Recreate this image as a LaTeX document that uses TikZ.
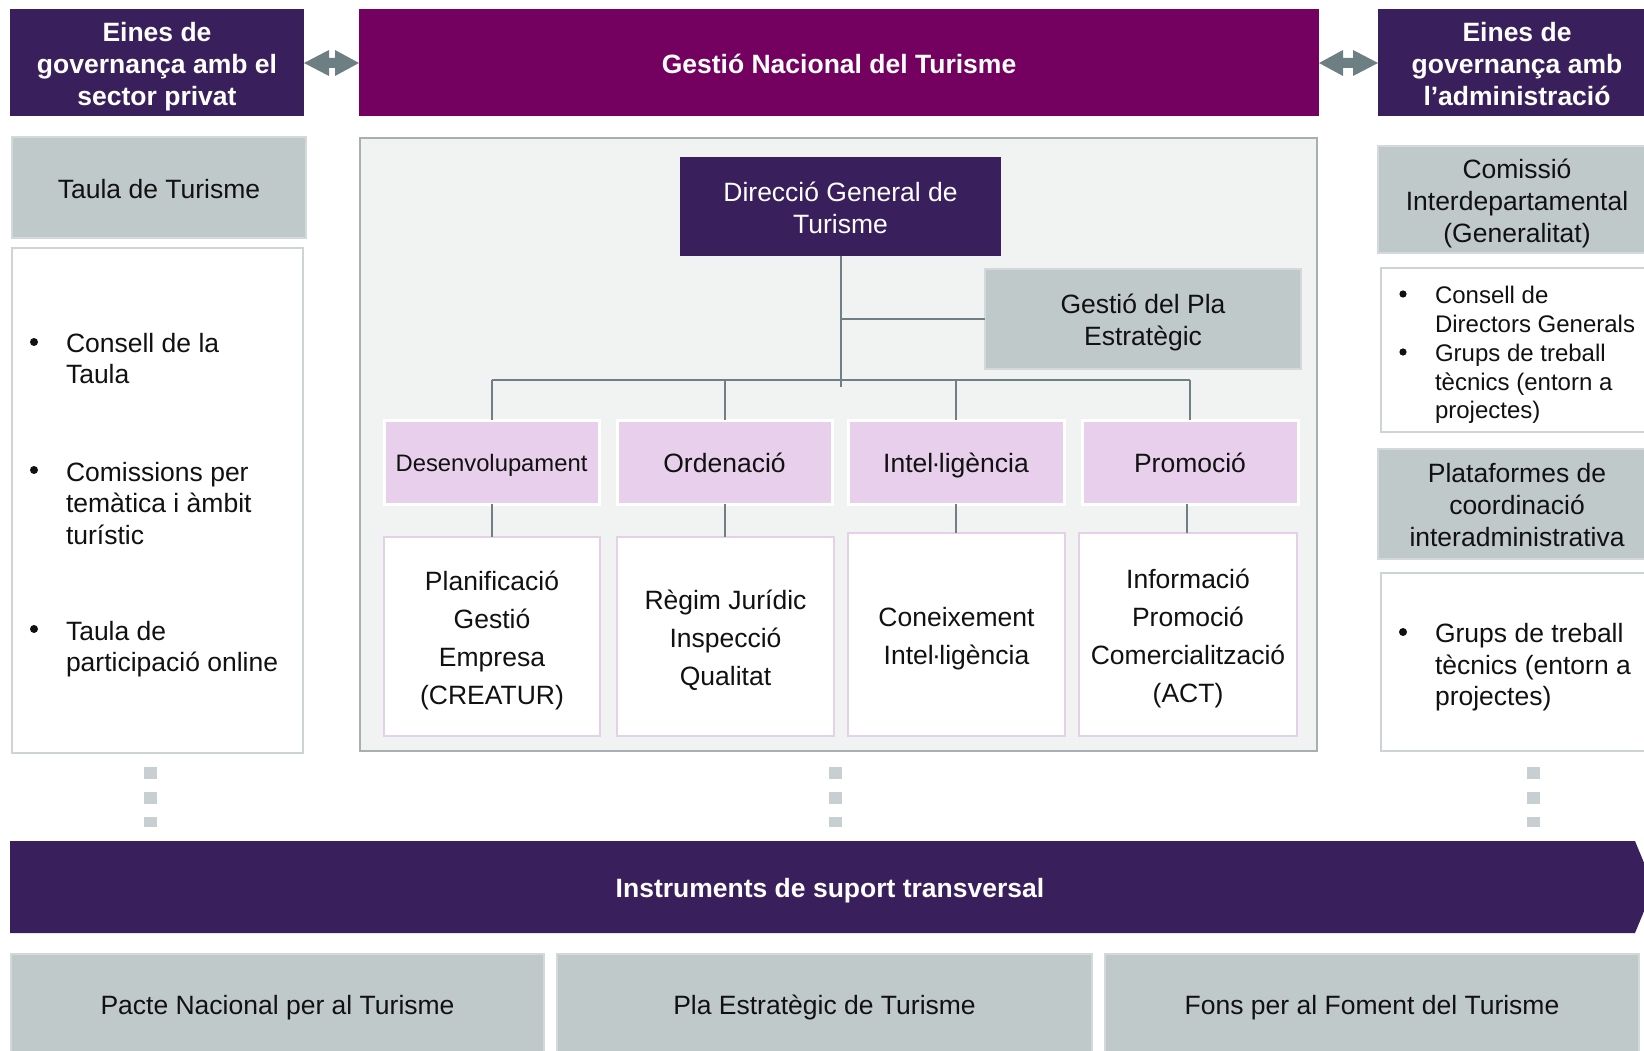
\documentclass[tikz,border=0pt]{standalone}
\usepackage{fontspec}
\setmainfont{Liberation Sans}
\newcommand\setfs[2]{\fontsize{#1}{#2}\selectfont}
% invisible struts giving every text block the same top and bottom reach
\newcommand\tstrut{\rule{0pt}{1.02em}}
\newcommand\bstrut{\rule[-0.22em]{0pt}{0.22em}}
\newcommand\midpt{\kern-0.06em·\kern-0.06em}
\definecolor{dpurple}{HTML}{3A1F5D}
\definecolor{magentah}{HTML}{74005F}
\definecolor{greyfill}{HTML}{C0C9CA}
\definecolor{greyedge}{HTML}{D3D9DA}
\definecolor{arrowgrey}{HTML}{6E7F83}
\definecolor{panelfill}{HTML}{F1F2F2}
\definecolor{paneledge}{HTML}{A7AFB1}
\definecolor{pinkfill}{HTML}{E8CFEB}
\definecolor{pinkedge}{HTML}{E6CFE9}
\definecolor{lightedge}{HTML}{CDD4D5}
\definecolor{dotgrey}{HTML}{C8CFD2}
\definecolor{linkgrey}{HTML}{6F7F84}
\definecolor{ink}{HTML}{111111}
\begin{document}
\begin{tikzpicture}[x=1pt,y=-1pt,
  box/.style={inner sep=0pt, outer sep=0pt, align=center},
  hdrdark/.style={box, fill=dpurple, text=white, font=\setfs{26.5}{32}\bfseries},
  hdrmag/.style={box, fill=magentah, text=white, font=\setfs{26.5}{32}\bfseries},
  greybox/.style={box, fill=greyfill, draw=greyedge, line width=1.5, text=ink, font=\setfs{26.5}{32}},
  listbox/.style={box, fill=white, draw=lightedge, line width=1.5},
  panel/.style={box, fill=panelfill, draw=paneledge, line width=2.5},
  headbox/.style={box, fill=dpurple, text=white, font=\setfs{26.5}{32}},
  areabox/.style={box, fill=pinkfill, draw=white, line width=3, text=ink, font=\setfs{26.5}{32}},
  taskbox/.style={box, fill=white, draw=pinkedge, line width=2, text=ink, font=\setfs{26.5}{38}},
  item/.style={inner sep=0pt, outer sep=0pt, align=left, anchor=west, text=ink},
  link/.style={draw=linkgrey, line width=2},
  dotmark/.style={fill=dotgrey},
  twoway/.style={fill=arrowgrey},
  basebox/.style={box, fill=greyfill, draw=greyedge, line width=1.5, text=ink, font=\setfs{26.5}{32}}
]
\useasboundingbox (0,0) rectangle (1644,1051);
\clip (0,0) rectangle (1644,1051);

% ---- top header row ----
\node[hdrdark, minimum width=294, minimum height=107] (hl) at (157,62.5)
  {\tstrut Eines de\\governança amb el\\sector privat\bstrut};
\node[hdrmag, minimum width=960, minimum height=107] (hc) at (839,62.5)
  {\tstrut Gestió Nacional del Turisme\bstrut};
\node[hdrdark, minimum width=278, minimum height=107] (hr) at (1517,62.5)
  {\tstrut Eines de\\governança amb\\l’administració\bstrut};

% two-way arrows between the headers
\fill[twoway] (hl.east |- 0,63) -- (329,50) -- (329,58) -- (335,58) -- (335,50)
  -- (hc.west |- 0,63) -- (335,76) -- (335,68) -- (329,68) -- (329,76) -- cycle;
\fill[twoway] (hc.east |- 0,63) -- (1343,50) -- (1343,58) -- (1353,58) -- (1353,50)
  -- (hr.west |- 0,63) -- (1353,76) -- (1353,68) -- (1343,68) -- (1343,76) -- cycle;

% ---- left column: private sector ----
\node[greybox, minimum width=294, minimum height=101] (taula) at (159,187.5)
  {\tstrut Taula de Turisme\bstrut};
\node[listbox, minimum width=291, minimum height=505] (lbox) at (157.5,500.5) {};
\fill[ink] (34,342) circle (4);
\node[item, font=\setfs{26.5}{31.5}] (l1) at (66,357.5) {\tstrut Consell de la\\Taula\bstrut};
\fill[ink] (34,470) circle (4);
\node[item, font=\setfs{26.5}{31.5}] (l2) at (66,502) {\tstrut Comissions per\\temàtica i àmbit\\turístic\bstrut};
\fill[ink] (34,629) circle (4);
\node[item, font=\setfs{26.5}{31.5}] (l3) at (66,645.5) {\tstrut Taula de\\participació online\bstrut};

% ---- right column: administration ----
\node[greybox, minimum width=278, minimum height=107] (comis) at (1517,199.5)
  {\tstrut Comissió\\Interdepartamental\\(Generalitat)\bstrut};
\node[listbox, minimum width=275, minimum height=164] (rbox1) at (1518.5,350) {};
\fill[ink] (1403,294) circle (3.6);
\node[item, font=\setfs{24}{28.7}] (r1) at (1435,308.5) {\tstrut Consell de\\Directors Generals\bstrut};
\fill[ink] (1403,352) circle (3.6);
\node[item, font=\setfs{24}{28.7}] (r2) at (1435,380.5) {\tstrut Grups de treball\\tècnics (entorn a\\projectes)\bstrut};
\node[greybox, minimum width=278, minimum height=110] (plat) at (1517,504)
  {\tstrut Plataformes de\\coordinació\\interadministrativa\bstrut};
\node[listbox, minimum width=275, minimum height=178] (rbox2) at (1518.5,662) {};
\fill[ink] (1403,632) circle (4);
\node[item, font=\setfs{26.5}{31.5}] (r3) at (1435,663.5) {\tstrut Grups de treball\\tècnics (entorn a\\projectes)\bstrut};

% ---- central organisation chart ----
\node[panel, minimum width=957, minimum height=613] (panel) at (838.5,444.5) {};
\node[headbox, minimum width=321, minimum height=99] (dgt) at (840.5,206.5)
  {\tstrut Direcció General de\\Turisme\bstrut};
\node[greybox, minimum width=316, minimum height=100] (gpe) at (1143,319)
  {\tstrut Gestió del Pla\\Estratègic\bstrut};

\node[areabox, minimum width=215, minimum height=84, font=\setfs{23.8}{28}] (des) at (491.5,462) {\tstrut Desenvolupament\bstrut};
\node[areabox, minimum width=215, minimum height=84] (ord) at (724.5,462) {\tstrut Ordenació\bstrut};
\node[areabox, minimum width=216, minimum height=84] (int) at (956,462) {\tstrut Intel\midpt ligència\bstrut};
\node[areabox, minimum width=216, minimum height=84] (pro) at (1190,462) {\tstrut Promoció\bstrut};

\node[taskbox, minimum width=216, minimum height=199] (w1) at (492,636.5)
  {\tstrut Planificació\\Gestió\\Empresa\\(CREATUR)\bstrut};
\node[taskbox, minimum width=217, minimum height=199] (w2) at (725.5,636.5)
  {\tstrut Règim Jurídic\\Inspecció\\Qualitat\bstrut};
\node[taskbox, minimum width=217, minimum height=203] (w3) at (956.5,634.5)
  {\tstrut Coneixement\\Intel\midpt ligència\bstrut};
\node[taskbox, minimum width=218, minimum height=203] (w4) at (1188,634.5)
  {\tstrut Informació\\Promoció\\Comercialització\\(ACT)\bstrut};

% connectors of the chart
\coordinate (trunk) at (840,387);
\coordinate (bus) at (840,380);
\draw[link] (dgt.south) -- (dgt.south |- trunk);
\draw[link] (dgt.south |- gpe.west) -- (gpe.west);
\draw[link] (des.north |- bus) -- (pro.north |- bus);
\draw[link] (des.north |- bus) -- (des.north);
\draw[link] (ord.north |- bus) -- (ord.north);
\draw[link] (int.north |- bus) -- (int.north);
\draw[link] (pro.north |- bus) -- (pro.north);
\draw[link] (des.south) -- (des.south |- w1.north);
\draw[link] (ord.south) -- (ord.south |- w2.north);
\draw[link] (int.south) -- (int.south |- w3.north);
\draw[link] (w4.north -| 1187,0) -- (pro.south -| 1187,0);

% ---- vertical dot leaders ----
\foreach \cx in {150,835,1533}{
  \fill[dotmark] (\cx-6.5,767) rectangle (\cx+6.5,779);
  \fill[dotmark] (\cx-6.5,792) rectangle (\cx+6.5,804);
  \fill[dotmark] (\cx-6.5,817) rectangle (\cx+6.5,827);
}

% ---- transversal support band ----
\fill[dpurple] (10,841) -- (1635,841) -- (1654,887) -- (1635,933) -- (10,933) -- cycle;
\node[box, text=white, font=\setfs{26.5}{32}\bfseries] (band) at (830,887)
  {\tstrut Instruments de suport transversal\bstrut};

% ---- support instruments ----
\node[basebox, minimum width=533, minimum height=100] (b1) at (277.5,1004)
  {\tstrut Pacte Nacional per al Turisme\bstrut};
\node[basebox, minimum width=535, minimum height=100] (b2) at (824.5,1004)
  {\tstrut Pla Estratègic de Turisme\bstrut};
\node[basebox, minimum width=534, minimum height=100] (b3) at (1372,1004)
  {\tstrut Fons per al Foment del Turisme\bstrut};
\end{tikzpicture}
\end{document}
